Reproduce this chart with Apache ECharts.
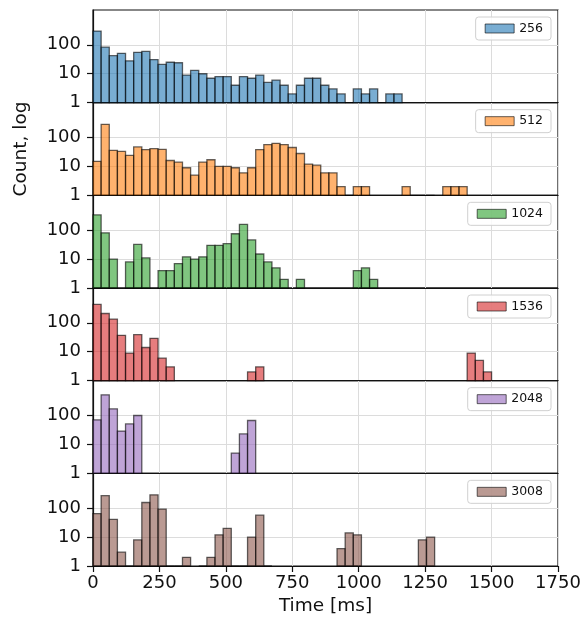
<!DOCTYPE html>
<html>
<head>
<meta charset="utf-8">
<script src="https://cdn.jsdelivr.net/npm/echarts@6/dist/echarts.min.js"></script>
<style>
html,body{margin:0;padding:0;background:#fff;}
#chart{width:587px;height:625px;}
</style>
</head>
<body>
<div id="chart"></div>
<script>
// Histogram layout: 49 equal bins over 0..1500 ms
const HIST_MIN = 0;
const HIST_MAX = 1500;
const N_BINS = 49;

const seriesNames = ['256', '512', '1024', '1536', '2048', '3008'];
const seriesColors = ['#1f77b4', '#ff7f0e', '#2ca02c', '#d62728', '#9467bd', '#8c564b'];

const counts256 = [300,83,42,51,28,55,59,31,21,25,24,9,13,10,7,8,8,4,8,7,9,5,6,4,2,4,7,7,4,3,2,1,3,2,3,1,2,2,0,0,0,0,0,0,0,0,0,0,0];
const counts512 = [15,285,36,33,24,47,38,41,39,16,14,9,5,14,17,10,10,9,6,9,38,57,63,57,45,28,12,11,6,6,2,1,2,2,0,0,0,0,2,1,1,1,0,2,2,2,0,0,0];
const counts1024 = [338,81,10,0,8,32,11,0,4,4,7,12,10,12,30,30,34,75,158,46,15,8,5,2,0,2,0,0,0,0,0,0,4,5,2,0,0,0,0,0,0,0,0,0,0,0,0,0,0];
const counts1536 = [433,210,134,37,9,39,14,29,6,3,0,0,0,0,0,0,0,0,0,2,3,0,0,0,0,0,0,0,0,0,0,0,0,0,0,0,0,0,0,0,0,0,0,0,0,0,9,5,2];
const counts2048 = [71,520,170,29,51,100,0,0,0,0,0,0,0,0,0,0,0,5,23,67,0,0,0,0,0,0,0,0,0,0,0,0,0,0,0,0,0,0,0,0,0,0,0,0,0,0,0,0,0];
const counts3008 = [65,270,41,3,1,8,157,290,93,1,1,2,0,1,2,12,20,1,1,10,57,1,0,0,0,0,0,0,0,0,4,14,12,0,0,0,0,0,0,0,8,10,0,0,0,0,0,0,0];

const allCounts = [counts256, counts512, counts1024, counts1536, counts2048, counts3008];

const xTicks = [0, 250, 500, 750, 1000, 1250, 1500, 1750];
const yTicks = [1, 10, 100];

const X_MAX = 1750;
const Y_MAX = 1600;

const FONT = 'DejaVu Sans';
const TOP = 10, BOTTOM_Y = 566, LEFT = 93, RIGHT = 29;
const PANEL_H = (BOTTOM_Y - TOP) / 6;

function hexToRgba(hex, a) {
  const n = parseInt(hex.slice(1), 16);
  return 'rgba(' + ((n >> 16) & 255) + ',' + ((n >> 8) & 255) + ',' + (n & 255) + ',' + a + ')';
}

const binW = (HIST_MAX - HIST_MIN) / N_BINS;

const grids = [], xAxes = [], yAxes = [], series = [], legends = [];

seriesNames.forEach((name, k) => {
  const top = TOP + PANEL_H * k;
  const last = k === seriesNames.length - 1;
  grids.push({
    left: LEFT, right: RIGHT, top: top, height: PANEL_H,
    show: true, borderColor: '#111', borderWidth: 1.2, backgroundColor: 'transparent'
  });
  xAxes.push({
    type: 'value', gridIndex: k, min: 0, max: X_MAX, interval: 250,
    axisLine: { show: true, onZero: false, lineStyle: { color: '#111', width: 1.2 } },
    axisTick: { show: last, length: 6, customValues: xTicks, lineStyle: { color: '#111', width: 1.2 } },
    axisLabel: { show: last, customValues: xTicks, fontFamily: FONT, fontSize: 18, color: '#111', margin: 8,
                 formatter: function (v) { return String(v); } },
    splitLine: { show: true, lineStyle: { color: '#dcdcdc', width: 1 } },
    name: last ? 'Time [ms]' : '',
    nameLocation: 'middle', nameGap: 31,
    nameTextStyle: { fontFamily: FONT, fontSize: 18.5, color: '#111' }
  });
  yAxes.push({
    type: 'log', logBase: 10, gridIndex: k, min: 1, max: Y_MAX,
    axisLine: { show: true, lineStyle: { color: '#111', width: 1.2 } },
    axisTick: { show: true, length: 6, customValues: yTicks, lineStyle: { color: '#111', width: 1.2 } },
    axisLabel: { show: true, customValues: yTicks, fontFamily: FONT, fontSize: 18, color: '#111', margin: 12,
                 formatter: function (v) { return String(v); } },
    splitLine: { show: true, lineStyle: { color: '#dcdcdc', width: 1 } },
    minorTick: { show: false }, minorSplitLine: { show: false },
    name: k === 1 ? 'Count, log' : '',
    nameLocation: 'middle', nameGap: 62, nameRotate: 90,
    nameTextStyle: { fontFamily: FONT, fontSize: 18.5, color: '#111' }
  });
  const data = [];
  allCounts[k].forEach((c, i) => {
    if (c > 0) data.push([HIST_MIN + i * binW, HIST_MIN + (i + 1) * binW, c]);
  });
  const fill = hexToRgba(seriesColors[k], 0.6);
  series.push({
    name: name, type: 'custom', xAxisIndex: k, yAxisIndex: k,
    itemStyle: { color: fill },
    encode: { x: [0, 1], y: 2 },
    data: data,
    z: 3,
    renderItem: function (params, api) {
      const p0 = api.coord([api.value(0), api.value(2)]);
      const p1 = api.coord([api.value(1), 1]);
      return {
        type: 'rect',
        shape: { x: p0[0], y: p0[1], width: p1[0] - p0[0], height: p1[1] - p0[1] },
        style: { fill: fill, stroke: 'rgba(0,0,0,0.6)', lineWidth: 1.3 }
      };
    }
  });
  legends.push({
    data: [name], top: top + 7, right: 36, orient: 'horizontal',
    icon: 'rect', itemWidth: 29, itemHeight: 9, itemGap: 5,
    itemStyle: { borderColor: 'rgba(0,0,0,0.6)', borderWidth: 1 },
    textStyle: { fontFamily: FONT, fontSize: 12.5, color: '#111' },
    backgroundColor: 'rgba(255,255,255,0.85)', borderColor: '#d0d0d0', borderWidth: 1, borderRadius: 3,
    padding: [5, 8, 5, 9], selectedMode: false
  });
});

const chart = echarts.init(document.getElementById('chart'), null, { renderer: 'canvas' });
chart.setOption({
  animation: false,
  backgroundColor: '#fff',
  grid: grids, xAxis: xAxes, yAxis: yAxes, series: series, legend: legends
});
</script>
</body>
</html>
